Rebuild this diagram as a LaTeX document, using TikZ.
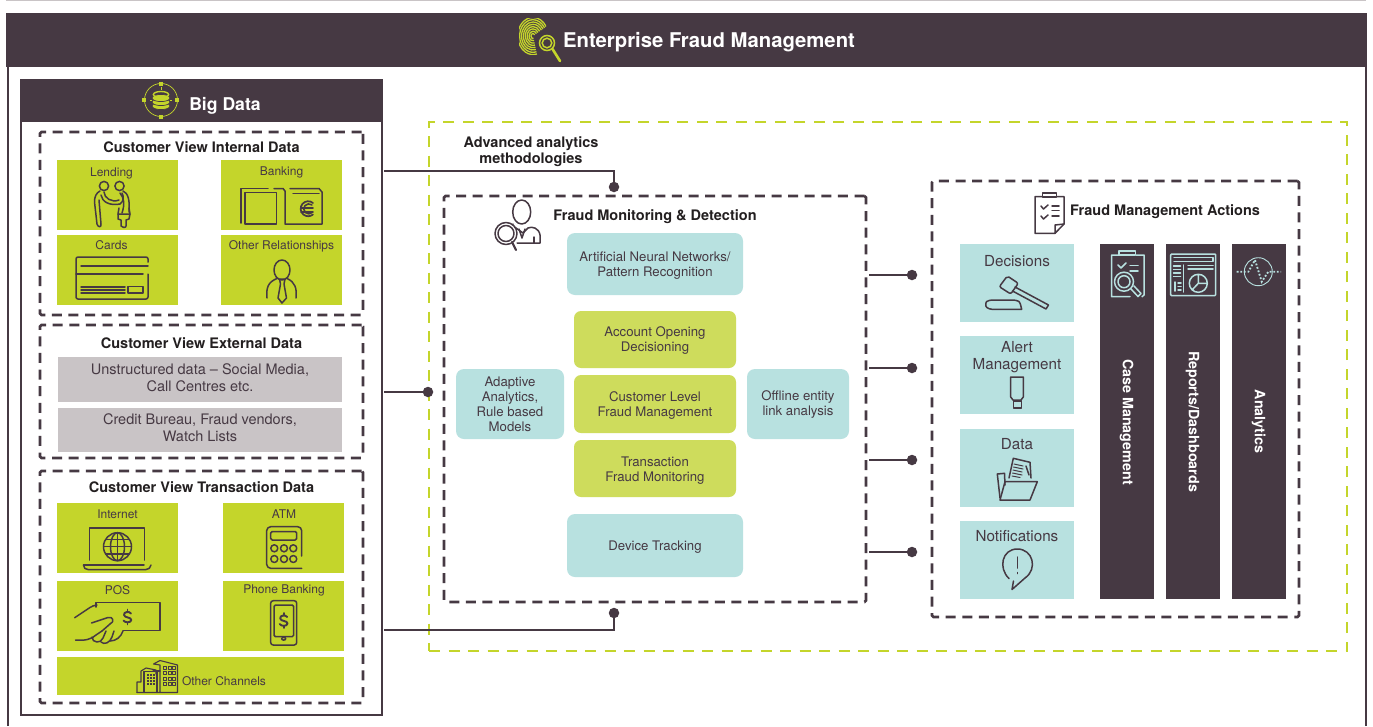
\documentclass[tikz,border=0pt]{standalone}
\usepackage{fontspec}
\setmainfont{TeX Gyre Heros}
\definecolor{dark}{HTML}{463943}
\definecolor{lime}{HTML}{C4D52B}
\definecolor{limesoft}{HTML}{CEDC5C}
\definecolor{teal2}{HTML}{B8E1E0}
\definecolor{greyb}{HTML}{C9C4C6}
\definecolor{ink}{HTML}{231F20}
\newcommand{\fs}[1]{\fontsize{#1}{#1}\selectfont}
\newcommand{\lf}{\rule{0pt}{13.5pt}}
\newcommand{\dn}{\rule[-4.2pt]{0pt}{0pt}}
\newcommand{\mybox}[7]{\node[#1,anchor=center,inner sep=0pt,outer sep=0pt,align=center,minimum width={(#5-#3)*1pt},minimum height={(#6-#4)*1pt}] (#2) at ({(#3+#5)/2},{(#4+#6)/2}) {#7};}
\tikzset{
  darkfill/.style={fill=dark,draw=none},
  frameline/.style={draw=dark,line width=2.5pt},
  dashbox/.style={draw=dark,line width=2.6pt,dash pattern=on 10pt off 6.6pt,rounded corners=1.5pt},
  limedash/.style={draw=lime,line width=2.4pt,dash pattern=on 11pt off 8.5pt},
  limetile/.style={fill=lime,draw=none},
  tealtile/.style={fill=teal2,draw=none},
  greytile/.style={fill=greyb,draw=none,text=dark,font=\fs{14.5},align=center},
  roundteal/.style={fill=teal2,draw=none,rounded corners=8pt,text=dark,font=\fs{13.2}},
  roundlime/.style={fill=limesoft,draw=none,rounded corners=7pt,text=dark,font=\fs{13.2}},
  heading/.style={font=\bfseries\fs{14.5},text=ink,inner sep=0pt,align=center,yshift=-0.8pt},
  tilelabel/.style={font=\fs{12},text=dark,inner sep=0pt,yshift=-0.8pt},
  actlabel/.style={font=\fs{15.2},text=dark,inner sep=0pt,align=center,yshift=-0.4pt},
  barlabel/.style={font=\bfseries\fs{14.3},text=white,inner sep=0pt,rotate=-90},
  conn/.style={draw=dark,line width=2.4pt},
  jdot/.style={circle,fill=dark,draw=none,minimum size=10.5pt,inner sep=0pt},
  ico/.style={draw=dark,line width=1.5pt,line cap=round,line join=round},
  tic/.style={draw=teal2,line width=1.5pt,line cap=round,line join=round},
  dollar/.pic={\draw[ico,line width=1.9pt] (3.5,-3.5) .. controls (2,-6) and (-4,-5.5) .. (-3.5,-2) .. controls (-3,1) and (4,0) .. (3.8,3) .. controls (3.5,6) and (-2.5,6) .. (-4,3.5); \draw[ico,line width=1.6pt] (0,-7.5)--(0,-5.5) (0,5.5)--(0,7.5);}
}
\begin{document}
\begin{tikzpicture}[x=1pt,y=-1pt]
\useasboundingbox (0,0) rectangle (1373,726);
\fill[white] (0,0) rectangle (1373,726);
% top rule and outer frame
\coordinate (ruleL) at (6,0.5); \coordinate (ruleR) at (1366,0.5);
\draw[greyb,line width=1.2pt] (ruleL) -- (ruleR);
\coordinate (frameBL) at (8,726); \coordinate (frameBR) at (1366,726);
\mybox{darkfill}{header}{6}{13}{1367}{67}{}
\draw[frameline] (frameBL) -- (header.south west -| frameBL);
\draw[frameline] (frameBR) -- (header.south east -| frameBR);
\node[font=\bfseries\fs{20.3},text=white,inner sep=0pt] (title) at (709,42) {Enterprise Fraud Management};
% title icon: fingerprint + magnifier
\begin{scope}
\clip (519,18) rectangle (546,54);
\foreach \r in {2.5,4.8,7.1,9.4,11.7,14,16.3,18.6}{
  \draw[lime,line width=1.3pt] ([xshift=-\r pt*0.82]533,36) arc[start angle=180,end angle=330,x radius=0.82*\r,y radius=\r];
  \draw[lime,line width=1.3pt] ([xshift=-\r pt*0.82]533,36) arc[start angle=180,end angle=75,x radius=0.82*\r,y radius=\r];
}
\end{scope}
\fill[dark] (547,43) circle (10);
\draw[lime,line width=1.5pt] (547,43) circle (7.5) (547,43) circle (4.8);
\draw[lime,line width=2.6pt,line cap=round] (552.5,49) -- (560,61);
% Big Data panel
\mybox{frameline,fill=white}{bigdata}{21}{80}{382}{715}{}
\mybox{darkfill}{bdhead}{20}{79}{383}{122}{}
\node[font=\bfseries\fs{17.6},text=white,inner sep=0pt] (bdtitle) at (225,106) {Big Data};
\draw[lime,line width=.7pt] (161,100) circle (16.5);
\foreach \p in {(161,84),(161,117),(144,100),(177,100)} \fill[lime] \p +(-2.3,-2.3) rectangle +(2.3,2.3);
\draw[lime,line width=.9pt] (150,100) -- (152,100) (170,100) -- (172,100) (161,87) -- (161,90);
\filldraw[fill=lime,draw=dark,line width=.7pt] (161,106) ellipse (9 and 3.6);
\filldraw[fill=lime,draw=dark,line width=.7pt] (161,102) ellipse (9 and 3.6);
\filldraw[fill=lime,draw=dark,line width=.7pt] (161,98) ellipse (9 and 3.6);
\draw[lime,line width=1.4pt] (161,94.5) ellipse (7.6 and 3);
% Internal
\mybox{dashbox}{internal}{40}{132}{363}{315}{}
\node[heading] (inttitle) at (201.5,146.2) {Customer View Internal Data};
\mybox{limetile}{lending}{57}{160}{178}{230}{}
\mybox{limetile}{banking}{221}{160}{342}{230}{}
\mybox{limetile}{cards}{57}{235}{178}{305}{}
\mybox{limetile}{otherrel}{221}{235}{342}{305}{}
\node[tilelabel] (lblLend) at (111.5,172.7) {Lending};
\node[tilelabel] (lblBank) at (281.5,171.7) {Banking};
\node[tilelabel] (lblCards) at (111.5,244.3) {Cards};
\node[tilelabel] (lblOther) at (281.5,245.7) {Other Relationships};
% handshake
\draw[ico] (104,186) circle (4.6) (119.5,186) circle (4.6);
\draw[ico] (100,191) .. controls (96,193) and (94.5,197) .. (94.5,202) -- (97,224) .. controls (98,228) and (102,227) .. (101,224) -- (99,200);
\draw[ico] (101,195) .. controls (102,202) and (110,206) .. (120,204) .. controls (124,201) and (124,197) .. (122,193);
\draw[ico] (104,192) .. controls (104,198) and (112,203) .. (119,200);
\draw[ico] (123,191) .. controls (128,193) and (130,200) .. (129,212);
\draw[ico] (119,208) -- (118,214) -- (130,214) -- (129,208);
\draw[ico] (118,214) -- (118,219) -- (121,220) -- (121,226) .. controls (122,228) and (126,228) .. (126,226) -- (126,220) -- (129,219) -- (130,214);
\draw[ico] (120,193) .. controls (124,198) and (125,204) .. (122,213);
% banking
\draw[ico] (268,188.5) -- (241,188.5) -- (241,223);
\draw[ico] (245,192.5) -- (276.5,192.5) -- (276.5,224) -- (245,224) -- cycle;
\draw[ico] (274,188.5) -- (283,188.5) -- (285,191) -- (285,224) -- (322,224) -- (322,192) -- (319,188.5) -- (290,188.5);
\draw[ico] (293,193.5) -- (319,193.5);
\draw[ico,line width=1.7pt] (313,203) arc[start angle=-50,end angle=-310,radius=7.5];
\draw[ico,line width=1.5pt] (312,205) arc[start angle=-50,end angle=-310,radius=5];
\draw[ico] (301,208) -- (313,208) (301,212) -- (313,212);
% card
\draw[ico,rounded corners=2pt] (148,262) -- (148,257) -- (76,257) -- (76,299) -- (148,299) -- (148,274);
\draw[ico] (81,266) -- (148,266) (76,274) -- (143,274);
\draw[ico] (81,287) -- (125,287) (81,290) -- (125,290) (81,293) -- (125,293);
\draw[ico] (128,286.5) rectangle (143,293);
% person w/ tie
\draw[ico] (282,270) ellipse (8 and 10);
\draw[ico] (267,298) .. controls (266,288) and (268,282) .. (277,278.5);
\draw[ico] (296,298) .. controls (297,288) and (295,282) .. (287,278.5);
\draw[ico] (279.5,279) -- (285,279) -- (284,284) -- (286.5,298) -- (282,303) -- (278,298) -- (280.5,284) -- cycle;
% External
\mybox{dashbox}{external}{40}{325}{363}{458}{}
\node[heading] (exttitle) at (201.5,342.2) {Customer View External Data};
\mybox{greytile}{unstruct}{58}{357}{342}{402}{Unstructured data -- Social Media,\\[2.5pt]Call Centres etc.\dn}
\mybox{greytile}{bureau}{58}{408}{342}{452}{Credit Bureau, Fraud vendors,\\[2.5pt]Watch Lists\dn}
% Transaction
\mybox{dashbox}{transaction}{40}{471}{363}{703}{}
\node[heading] (trantitle) at (201.5,486.2) {Customer View Transaction Data};
\mybox{limetile}{internet}{57}{503}{178}{573}{}
\mybox{limetile}{atm}{223}{503}{344}{573}{}
\mybox{limetile}{pos}{57}{581}{178}{651}{}
\mybox{limetile}{phone}{223}{581}{344}{651}{}
\mybox{limetile}{otherch}{57}{657}{344}{695}{}
\node[tilelabel] (lblNet) at (117.5,513.2) {Internet};
\node[tilelabel] (lblAtm) at (284,513.2) {ATM};
\node[tilelabel] (lblPos) at (117.5,589.2) {POS};
\node[tilelabel] (lblPhone) at (284,589.7) {Phone Banking};
\node[tilelabel] (lblCh) at (224,680.2) {Other Channels};
% laptop
\draw[ico] (89.5,560) -- (89.5,528) -- (144.5,528) -- (144.5,560);
\draw[ico] (83.5,565) .. controls (84,568) and (85,569.5) .. (88,569.5) -- (146,569.5) .. controls (149,569.5) and (150,568) .. (151,565);
\draw[ico] (83.5,565) -- (144,565);
\draw[ico] (117.5,546.7) circle (14);
\draw[ico] (117.5,546.7) ellipse (7 and 14);
\draw[ico] (117.5,532.7) -- (117.5,560.7) (103.5,546.7) -- (131.5,546.7) (105.5,539.5) -- (129.5,539.5) (105.5,554) -- (129.5,554);
% atm
\draw[ico,rounded corners=4pt] (301.7,556) -- (301.7,526.7) -- (266.7,526.7) -- (266.7,568.3) -- (301.7,568.3);
\draw[ico,rounded corners=1.5pt] (270.7,531.5) rectangle (296.7,540);
\foreach \x in {274.3,284,293.3} \foreach \y in {548.3,559} \draw[ico] (\x,\y) circle (3.5);
% pos
\draw[ico] (96,607) -- (96,602.3) -- (160,602.3) -- (160,630.7) -- (123,630.7);
\draw[ico] (74.7,617.7) -- (90,607.5) .. controls (92,606) and (94,605.5) .. (97,605);
\draw[ico] (91.5,623) -- (108,617.5) .. controls (113,616) and (115,622) .. (110,624) -- (102,631);
\draw[ico] (75.5,640) .. controls (85,641) and (92,639) .. (96,635) -- (102,631);
\draw[ico] (92,637) .. controls (92,643) and (101,644) .. (103,638) -- (106,631);
\draw[ico] (101,642) .. controls (104,645) and (110,643) .. (112,637) -- (114,631);
\draw[ico] (110,641) .. controls (116,641) and (121,637) .. (123,631);
\pic at (127.5,617) {dollar};
% phone
\draw[ico,rounded corners=2.5pt] (270.7,600.7) rectangle (296.7,645);
\draw[ico,rounded corners=1.5pt] (274,605) rectangle (293.7,636.7);
\draw[ico] (283.7,638.7) ellipse (2 and 1.4);
\pic at (283.7,620.5) {dollar};
% buildings
\draw[ico,line width=1.1pt] (137,692.5) -- (137,682) -- (141,682) -- (141,671) -- (146,668) -- (156,670) -- (156,674);
\draw[ico,line width=1.1pt] (144,692.5) -- (144,671.5) -- (157,671.5) -- (157,692.5);
\draw[ico,line width=1.1pt] (153,671) -- (160,671);
\draw[ico,line width=1.1pt] (137,692.5) -- (177.5,692.5) -- (177.5,665) -- (160,660.5) -- (153.5,664) -- (160,665) -- (160,692.5);
\foreach \x in {147,150,153} \foreach \y in {673.5,676.5,679.5,682.5} \fill[dark] (\x,\y) rectangle +(2,2);
\foreach \x in {163,168,172} \foreach \y in {666,671,677,682} \draw[ico,line width=.8pt] (\x,\y) rectangle +(3,3.2);
% Green dashed region
\mybox{limedash}{analytics}{429}{122}{1347}{651}{}
\node[heading] (advtitle) at (531,150.8) {Advanced analytics\\[1.5pt]methodologies};
% Monitoring
\mybox{dashbox}{monitor}{444}{196}{866}{602}{}
\node[heading] (montitle) at (655,216) {Fraud Monitoring \& Detection};
\draw[ico] (521.7,212) ellipse (9 and 12);
\draw[ico] (513,224) .. controls (511,226) and (513,226) .. (516,228) -- (523,233) -- (528,228) .. controls (532,226) and (539,228) .. (540,235) -- (540,243) -- (517,243);
\draw[ico] (519,229) -- (522,238) -- (525,229);
\draw[ico] (534,237) -- (534,243);
\draw[ico,fill=white] (506,233.5) circle (11);
\draw[ico] (506,233.5) circle (8);
\draw[ico,line width=2.2pt] (512,242) -- (516,250);
\mybox{roundteal}{ann}{567}{233}{743}{295}{\lf Artificial Neural Networks/\\[1.8pt]Pattern Recognition}
\mybox{roundlime}{account}{574}{311}{736}{368}{\rule{0pt}{11.5pt}Account Opening\\[1.8pt]Decisioning}
\mybox{roundlime}{custlevel}{574}{375}{736}{433}{\lf Customer Level\\[1.8pt]Fraud Management}
\mybox{roundlime}{transmon}{574}{440}{736}{497}{\lf Transaction\\[1.8pt]Fraud Monitoring}
\mybox{roundteal}{device}{567}{514}{743}{577}{\lf Device Tracking}
\mybox{roundteal}{adaptive}{456}{369}{564}{439}{Adaptive\\[1.8pt]Analytics,\\[1.8pt]Rule based\\[1.8pt]Models}
\mybox{roundteal}{offline}{747}{369}{849}{439}{\rule{0pt}{11.5pt}Offline entity\\[1.8pt]link analysis}
% Actions
\mybox{dashbox}{actions}{932}{181}{1299}{617}{}
\node[heading,anchor=west] (acttitle) at (1070,210.8) {Fraud Management Actions};
\draw[ico] (1043,196.7) -- (1035,196.7) -- (1035,233.3) -- (1055,233.3) -- (1064,224) -- (1064,196.7) -- (1056.5,196.7);
\draw[ico] (1042.7,197) -- (1042.7,193) -- (1056.5,193) -- (1056.5,197) -- cycle;
\draw[ico] (1055,233.3) -- (1055,225) -- (1064,224);
\draw[ico] (1041,206) -- (1043.5,209) -- (1048,205);
\draw[ico] (1041,216) -- (1043.5,219) -- (1048,215);
\draw[ico] (1052,206) -- (1059,206) (1052,210.5) -- (1059,210.5) (1052,216) -- (1059,216);
\mybox{tealtile}{decisions}{960}{244}{1074}{322}{}
\mybox{tealtile}{alert}{960}{336}{1074}{414}{}
\mybox{tealtile}{datab}{960}{429}{1074}{507}{}
\mybox{tealtile}{notif}{960}{521}{1074}{599}{}
\node[actlabel] (lblDec) at (1017,261) {Decisions};
\node[actlabel] (lblAlert) at (1017,356.8) {Alert\\[1.8pt]Management};
\node[actlabel] (lblData) at (1017,444) {Data};
\node[actlabel] (lblNotif) at (1017,536) {Notifications};
% gavel
\draw[ico,rounded corners=3pt] (1021.7,309.3) -- (989,309.3) .. controls (985,306) and (986,302) .. (989,300) -- (1016,300) .. controls (1020,302) and (1021,306) .. (1021.7,309.3);
\draw[ico,rounded corners=2pt] (999.3,286.7) -- (1007.3,276) -- (1018.3,283.3) -- (1010.7,294) -- cycle;
\draw[ico] (1015,287) -- (1048.5,305) -- (1046,309) -- (1012.5,291);
% alert
\draw[ico] (1010.7,377) -- (1023.3,377) -- (1023.3,397) -- (1021,400) -- (1013,400) -- (1010.7,397) -- cycle;
\draw[ico] (1013.5,401) rectangle (1021.7,408);
% folder
\draw[ico] (1000,498) -- (997.3,474) -- (1004.5,473.3) -- (1005,485);
\draw[ico] (1005,481.7) -- (1037.3,481.7) -- (1030,500) -- (1000,500) -- cycle;
\draw[ico] (1009,478) -- (1013.3,458.3) -- (1030,462.3) -- (1031,478);
\draw[ico,line width=1pt] (1014,464) -- (1023,466) (1013.5,467) -- (1023,469) (1013,470) -- (1022,472) (1012.5,473) -- (1022,475) (1012,476) -- (1020,477.5);
\draw[ico] (1026,466) -- (1029,475);
% notification
\draw[ico] (1009,578.5) .. controls (998,568) and (1002,549) .. (1017.3,549) .. controls (1033,549) and (1038,569) .. (1025,578) -- (1012,589.5) -- (1013.5,581);
\draw[ico] (1017.3,557) -- (1017.3,568) (1017.3,572.5) -- (1017.3,573.5);
% bars
\mybox{darkfill}{casebar}{1100}{244}{1154}{599}{}
\mybox{darkfill}{repbar}{1166}{244}{1220}{599}{}
\mybox{darkfill}{anbar}{1232}{244}{1286}{599}{}
\node[barlabel] (lblCase) at (1126.5,422) {Case Management};
\node[barlabel] (lblRep) at (1192.5,421.5) {Reports/Dashboards};
\node[barlabel] (lblAn) at (1258.5,421.5) {Analytics};
% case icon
\draw[tic] (1119,255) -- (1111.5,255) -- (1111.5,296.7) -- (1130,296.7) (1136,255) -- (1144,255) -- (1144,295) -- (1142,296.7);
\draw[tic] (1119,255) -- (1119,251) -- (1135.7,251) -- (1135.7,255) -- cycle;
\draw[tic] (1118,265) -- (1121,268) -- (1126,263);
\draw[tic] (1130,265.7) -- (1138,265.7) (1130,271) -- (1138,271);
\draw[tic] (1124,281.7) circle (9.5) (1124,281.7) circle (6);
\draw[tic] (1131,289) -- (1138,296.5) -- (1141,293.5) -- (1134,286);
% reports icon
\draw[tic,rounded corners=1pt] (1170.7,254) rectangle (1215.7,295.7);
\draw[tic] (1174,257.5) -- (1213,257.5) -- (1213,261.5) -- (1174,261.5);
\draw[tic] (1183.3,265) -- (1183.3,292);
\draw[tic] (1173.5,266) -- (1180.5,266) (1173.5,269.5) -- (1180.5,269.5) (1173.5,273) -- (1180.5,273) (1173.5,276.5) -- (1180.5,276.5);
\draw[tic] (1188,265.5) -- (1213,265.5) (1188,269) -- (1213,269);
\draw[tic] (1175,282) -- (1175,291) (1178,283) -- (1181,283) (1178,286.5) -- (1181,286.5) (1178,290) -- (1181,290);
\draw[tic] (1198.3,283.3) circle (9) (1198.3,274.3) -- (1198.3,283.3) -- (1207.3,283.3) (1198.3,283.3) -- (1192,290);
% analytics icon
\draw[teal2,line width=.9pt] (1258.3,271.7) circle (14);
\draw[teal2,line width=1.8pt,dash pattern=on 1.8pt off 1.8pt] (1236.7,271.7) -- (1248.3,271.7) -- (1255,260) -- (1261.7,281.7) -- (1268.3,271.7) -- (1281,271.7);
% connectors
\node[jdot] (dotTop) at (614,187) {};
\node[jdot] (dotMid) at (428,392) {};
\node[jdot] (dotBot) at (614,613) {};
\node[jdot] (dotA) at (912,275) {};
\node[jdot] (dotB) at (912,368) {};
\node[jdot] (dotC) at (912,460) {};
\node[jdot] (dotD) at (912,552) {};
\coordinate (stubTop) at (384,171);
\coordinate (stubMid) at (384,392);
\coordinate (stubBot) at (384,630);
\draw[conn] (stubTop) -| (dotTop);
\draw[conn] (stubMid) -- (dotMid);
\draw[conn] (stubBot) -| (dotBot);
\coordinate (mA) at (869,275); \coordinate (mB) at (869,368); \coordinate (mC) at (869,460); \coordinate (mD) at (869,552);
\draw[conn] (mA) -- (dotA);
\draw[conn] (mB) -- (dotB);
\draw[conn] (mC) -- (dotC);
\draw[conn] (mD) -- (dotD);
\end{tikzpicture}
\end{document}
